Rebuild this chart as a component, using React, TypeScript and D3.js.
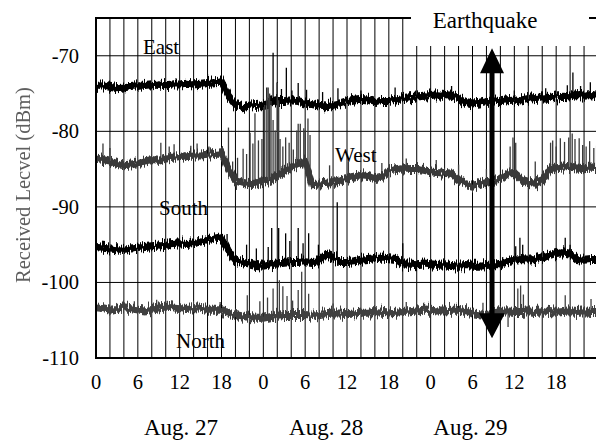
import * as d3 from "d3"

// received level (dBm) per hour, Aug. 27 00:00 → Aug. 29 24:00
const eastLevel = [
  -74.0, -73.9, -74.1, -74.3, -74.2, -74.0, -73.9, -74.0, -73.9, -73.8,
  -73.9, -73.8, -73.8, -73.7, -73.8, -73.7, -73.6, -73.5, -73.4, -75.3,
  -76.5, -76.8, -76.6, -76.5, -76.4, -76.2, -76.0, -76.0, -75.9, -76.0,
  -76.2, -76.4, -76.6, -76.7, -76.5, -76.3, -76.0, -75.8, -75.7, -75.8,
  -76.1, -76.0, -76.0, -75.8, -75.6, -75.5, -75.4, -75.3, -75.2, -75.1,
  -75.2, -75.3, -75.6, -76.1, -76.3, -76.2, -76.0, -75.9, -76.0, -75.9,
  -75.8, -75.9, -75.7, -75.6, -75.5, -75.6, -75.4, -75.3, -75.4, -75.2,
  -75.3, -75.2, -75.3,
]
const westLevel = [
  -83.6, -83.8, -84.0, -84.3, -84.5, -84.4, -84.2, -84.0, -83.8, -83.9,
  -83.6, -83.5, -83.4, -83.3, -83.2, -83.2, -83.1, -83.0, -82.9, -85.0,
  -86.5, -86.8, -87.0, -86.9, -86.7, -86.4, -85.8, -85.3, -84.8, -84.3,
  -84.0, -87.0, -86.9, -86.8, -86.7, -86.5, -86.3, -86.0, -85.8, -85.9,
  -86.2, -86.0, -85.2, -85.0, -84.9, -85.0, -85.0, -85.1, -85.3, -85.4,
  -85.5, -85.6, -86.4, -87.0, -87.2, -87.0, -86.7, -86.4, -86.3, -85.6,
  -85.5, -86.4, -86.7, -86.8, -86.5, -85.2, -84.9, -84.8, -84.7, -84.8,
  -84.9, -84.8, -84.9,
]
const southLevel = [
  -95.3, -95.4, -95.5, -95.6, -95.7, -95.5, -95.4, -95.3, -95.2, -95.1,
  -95.0, -94.9, -94.8, -94.9, -94.8, -94.6, -94.4, -94.2, -94.0, -95.8,
  -97.0, -97.3, -97.5, -97.7, -97.8, -97.6, -97.5, -97.4, -97.3, -97.3,
  -97.2, -97.3, -97.2, -96.3, -96.6, -97.3, -97.3, -97.2, -97.0, -96.9,
  -96.8, -96.7, -96.8, -96.9, -97.5, -97.5, -97.6, -97.5, -97.6, -97.7,
  -97.6, -97.7, -97.8, -97.7, -97.8, -97.8, -97.7, -97.6, -97.6, -97.2,
  -97.0, -96.9, -97.0, -96.9, -96.7, -96.4, -96.1, -96.0, -96.2, -96.9,
  -97.0, -96.9, -96.9,
]
const northLevel = [
  -103.3, -103.4, -103.6, -103.5, -103.3, -103.4, -103.6, -103.7, -103.5, -103.3,
  -103.2, -103.3, -103.4, -103.5, -103.4, -103.5, -103.6, -103.6, -103.8, -104.0,
  -104.3, -104.5, -104.7, -104.8, -104.8, -104.6, -104.4, -104.3, -104.3, -104.3,
  -104.3, -104.4, -104.3, -104.2, -104.1, -104.1, -104.2, -104.1, -104.0, -104.0,
  -103.9, -104.0, -104.1, -104.0, -103.9, -103.8, -103.7, -103.6, -103.6, -103.7,
  -103.7, -103.6, -103.6, -103.8, -104.1, -104.2, -104.3, -104.1, -103.9, -103.8,
  -103.9, -103.9, -103.8, -103.9, -103.8, -103.9, -104.0, -103.9, -103.8, -103.9,
  -103.8, -103.9, -103.9,
]

// [hour, peak dBm]
const eastSpikes = [
  [24.5, -74.2], [25.4, -69.6], [26.0, -73.5], [26.6, -74.4], [27.3, -71.6],
  [28.1, -74.6], [29.0, -73.6], [30.2, -74.5], [32.5, -74.8], [34.7, -74.3],
  [38.0, -74.6], [42.9, -74.2], [47.9, -74.3], [51.0, -74.0], [60.0, -74.6],
  [64.5, -74.3], [67.6, -73.9], [68.4, -72.2], [69.5, -74.0], [70.9, -73.5],
]
const westSpikes = [
  [1.0, -81.6], [2.0, -82.2], [9.3, -81.5], [10.5, -82.0], [11.2, -81.7],
  [13.6, -81.9], [14.5, -81.6], [16.2, -82.0],
  [19.0, -79.5], [19.6, -84.0], [20.3, -83.5], [21.1, -82.3], [21.6, -83.0],
  [22.1, -80.2], [22.5, -81.6], [22.8, -77.6], [23.3, -81.2], [23.8, -81.0],
  [24.2, -76.5], [24.5, -75.5], [24.7, -74.2], [24.9, -75.0], [25.1, -76.0],
  [25.4, -78.5], [25.7, -79.9], [26.0, -73.6], [26.2, -75.9], [26.4, -81.0],
  [26.8, -82.0], [27.2, -80.8], [27.7, -81.5], [28.3, -82.4], [28.8, -79.9],
  [29.0, -79.0], [29.3, -79.0], [29.8, -79.6], [30.0, -79.9], [30.4, -78.3],
  [30.7, -80.5],
  [33.5, -84.5], [36.2, -84.0], [41.0, -84.2], [44.5, -83.6], [48.8, -83.8],
  [52.0, -84.4], [56.0, -85.0], [59.4, -82.0], [59.8, -80.8], [60.2, -81.5],
  [63.0, -84.0], [65.2, -81.5], [65.5, -81.2], [66.0, -82.0], [66.6, -80.9],
  [67.2, -81.4], [67.8, -80.8], [68.3, -80.3], [68.7, -81.0], [69.3, -80.9],
  [69.8, -81.8], [70.3, -82.0], [70.8, -81.3], [71.4, -82.2], [71.8, -81.9],
]
const southSpikes = [
  [18.8, -93.6], [21.6, -95.0], [23.0, -95.5], [24.7, -95.3], [25.2, -92.8],
  [26.2, -92.8], [27.2, -93.5], [27.8, -94.5], [29.0, -92.8], [29.7, -94.8],
  [30.5, -93.5], [31.9, -95.0], [34.6, -89.4], [44.0, -94.8], [60.2, -95.2],
  [60.8, -94.1], [61.2, -95.0], [67.3, -94.1], [68.0, -95.0],
]
const northSpikes = [
  [5.5, -102.5], [8.7, -102.3], [17.8, -102.6], [21.7, -101.7], [23.5, -102.5],
  [24.6, -102.0], [25.4, -100.8], [26.3, -99.7], [26.8, -100.5], [27.4, -101.8],
  [28.2, -102.4], [29.0, -101.0], [29.5, -98.6], [30.5, -101.5], [34.0, -102.8],
  [44.5, -102.6], [55.5, -102.7], [59.1, -105.9], [60.5, -100.8], [60.9, -100.4],
  [61.3, -101.6], [67.3, -101.7], [71.0, -102.2],
]

const yTicks = [-110, -100, -90, -80, -70]
const xTicks = [0, 6, 12, 18, 24, 30, 36, 42, 48, 54, 60, 66]
const dayLabels = [
  { hour: 12.2, text: "Aug. 27" },
  { hour: 33, text: "Aug. 28" },
  { hour: 53.7, text: "Aug. 29" },
]
const quakeHour = 56.8

const W = 596
const H = 442
const FONT = "Liberation Serif"

// texture filter that roughens the thick trace into a dense noisy band
function Jag({ id, seed }: { id: string; seed: number }) {
  return (
    <filter id={id} filterUnits="userSpaceOnUse" x="90" y="0" width="520" height="370" colorInterpolationFilters="sRGB">
      <feTurbulence type="fractalNoise" baseFrequency="0.85 0.012" numOctaves="2" seed={seed} result="n" />
      <feColorMatrix in="n" type="matrix" values="0 0 0 0 0.5  0 1 0 0 0  0 0 0 0 0  0 0 0 0 1" result="m" />
      <feDisplacementMap in="SourceGraphic" in2="m" scale="16" xChannelSelector="R" yChannelSelector="G" />
    </filter>
  )
}

export default function App() {
  const x = d3.scaleLinear().domain([0, 72]).range([96, 598])
  const y = d3.scaleLinear().domain([-110, -65]).range([358, 18])
  const hours = d3.range(73)
  const line = d3.line<number>().x((_, i) => x(hours[i])).y(d => y(d))

  const series = [
    { level: eastLevel, spikes: eastSpikes, color: "#000" },
    { level: westLevel, spikes: westSpikes, color: "#3a3a3a" },
    { level: southLevel, spikes: southSpikes, color: "#000" },
    { level: northLevel, spikes: northSpikes, color: "#404040" },
  ]

  const gridX = d3.range(2, 72, 2)
  const ax = x(quakeHour)
  const aTop = y(-69)
  const aBot = y(-107.4)

  return (
    <svg width={W} height={H} style={{ position: "absolute", left: 0, top: 0, background: "#fff", fontFamily: FONT }}>
      <defs>
        <Jag id="jagA" seed={4} />
        <Jag id="jagB" seed={11} />
        <filter id="soft">
          <feGaussianBlur stdDeviation="0.7" />
        </filter>
      </defs>

      {/* grid */}
      {gridX.map(h => (
        <line key={"gx" + h} x1={x(h)} x2={x(h)} y1={y(-65)} y2={y(-110)} stroke="#000" strokeWidth={1} />
      ))}
      {yTicks.slice(1).map(v => (
        <line key={"gy" + v} x1={x(0)} x2={x(72)} y1={y(v)} y2={y(v)} stroke="#000" strokeWidth={1} />
      ))}

      {/* series */}
      {series.map((s, i) => {
        const levelAt = d3.scaleLinear().domain(hours).range(s.level)
        const d = line(s.level) || ""
        return (
          <g key={i}>
            <path d={d} fill="none" stroke={s.color} strokeWidth={6} filter="url(#jagA)" />
            <path d={d} fill="none" stroke={s.color} strokeWidth={6} filter="url(#jagB)" />
            {s.spikes.map(([h, v], j) => (
              <line key={j} x1={x(h)} x2={x(h)} y1={y(levelAt(h))} y2={y(v)} stroke={s.color} strokeWidth={1.3} />
            ))}
          </g>
        )
      })}

      {/* series names */}
      <g fontSize={21} fill="#000" fontFamily={FONT}>
        <text x={143} y={54}>East</text>
        <text x={335} y={162}>West</text>
        <text x={159} y={215}>South</text>
        <text x={176} y={348}>North</text>
      </g>

      {/* axes frame */}
      <line x1={x(0)} x2={x(72)} y1={y(-65)} y2={y(-65)} stroke="#000" strokeWidth={2} />
      <line x1={x(0)} x2={x(72)} y1={y(-110)} y2={y(-110)} stroke="#000" strokeWidth={2} />
      <line x1={x(0)} x2={x(0)} y1={y(-65) - 1} y2={y(-110) + 1} stroke="#000" strokeWidth={2} />

      {/* earthquake label */}
      <rect x={411} y={0} width={178} height={46} fill="#fff" />
      <text x={485} y={28} fontSize={23} textAnchor="middle" fontFamily={FONT}>Earthquake</text>

      {/* arrow */}
      <path
        d={`M${ax},${aTop} L${ax + 12},${aTop + 25} L${ax + 2.5},${aTop + 25} L${ax + 2.5},${aBot - 25} L${ax + 13},${aBot - 25} L${ax},${aBot} L${ax - 13},${aBot - 25} L${ax - 2.5},${aBot - 25} L${ax - 2.5},${aTop + 25} L${ax - 12},${aTop + 25} Z`}
        fill="#000"
      />

      {/* tick labels */}
      <g fontSize={20.5} fill="#000" fontFamily={FONT}>
        {yTicks.map(v => (
          <text key={"yt" + v} x={79} y={y(v) + 7} textAnchor="end">{String(v)}</text>
        ))}
        {xTicks.map(h => (
          <text key={"xt" + h} x={x(h)} y={389} textAnchor="middle">{String(h % 24)}</text>
        ))}
      </g>
      <g fontSize={23} fill="#000" fontFamily={FONT}>
        {dayLabels.map(d => (
          <text key={d.text} x={x(d.hour)} y={435} textAnchor="middle">{d.text}</text>
        ))}
      </g>

      <text
        transform="translate(30,185) rotate(-90)"
        textAnchor="middle"
        fontSize={20.5}
        fill="#5e5e5e"
        fontFamily={FONT}
        filter="url(#soft)"
      >
        Received Lecvel (dBm)
      </text>
    </svg>
  )
}
